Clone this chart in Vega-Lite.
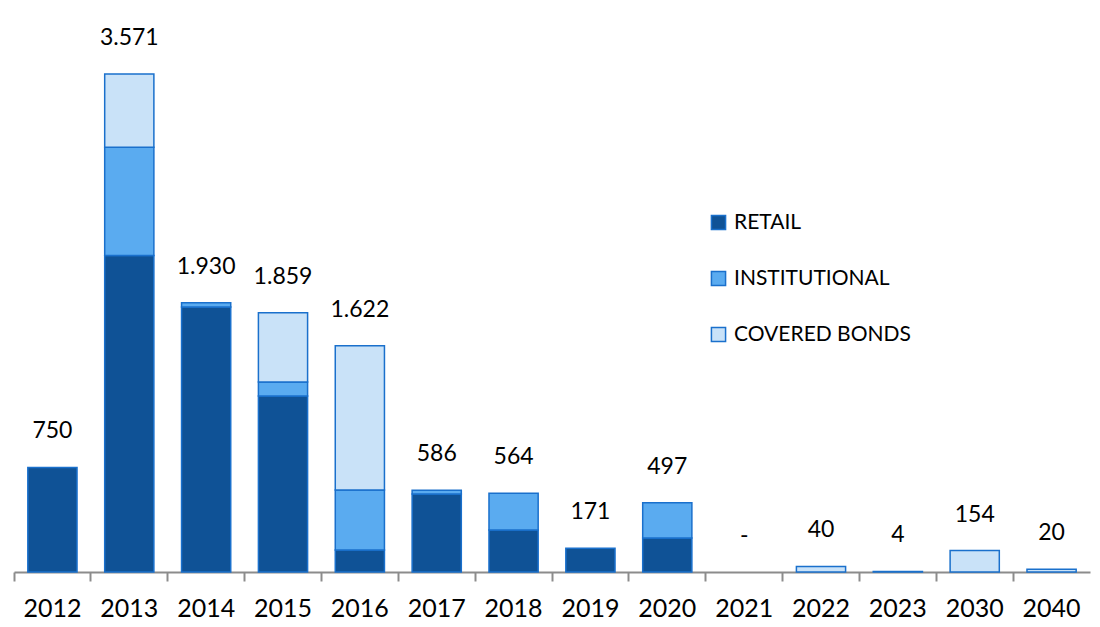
{
  "$schema": "https://vega.github.io/schema/vega-lite/v6.json",
  "autosize": {"type": "none"},
  "width": 1076,
  "height": 542,
  "padding": {"left": 14, "top": 30, "right": 10, "bottom": 55},
  "background": "white",
  "config": {"view": {"stroke": null}, "font": "Lato"},
  "datasets": {
    "parts": [
      {"year": "2012", "series": "RETAIL", "o": 1, "value": 750},
      {"year": "2013", "series": "RETAIL", "o": 1, "value": 2270},
      {"year": "2013", "series": "INSTITUTIONAL", "o": 2, "value": 775},
      {"year": "2013", "series": "COVERED BONDS", "o": 3, "value": 526},
      {"year": "2014", "series": "RETAIL", "o": 1, "value": 1900},
      {"year": "2014", "series": "INSTITUTIONAL", "o": 2, "value": 30},
      {"year": "2015", "series": "RETAIL", "o": 1, "value": 1262},
      {"year": "2015", "series": "INSTITUTIONAL", "o": 2, "value": 100},
      {"year": "2015", "series": "COVERED BONDS", "o": 3, "value": 497},
      {"year": "2016", "series": "RETAIL", "o": 1, "value": 158},
      {"year": "2016", "series": "INSTITUTIONAL", "o": 2, "value": 430},
      {"year": "2016", "series": "COVERED BONDS", "o": 3, "value": 1034},
      {"year": "2017", "series": "RETAIL", "o": 1, "value": 559},
      {"year": "2017", "series": "INSTITUTIONAL", "o": 2, "value": 27},
      {"year": "2018", "series": "RETAIL", "o": 1, "value": 301},
      {"year": "2018", "series": "INSTITUTIONAL", "o": 2, "value": 263},
      {"year": "2019", "series": "RETAIL", "o": 1, "value": 171},
      {"year": "2020", "series": "RETAIL", "o": 1, "value": 244},
      {"year": "2020", "series": "INSTITUTIONAL", "o": 2, "value": 253},
      {"year": "2022", "series": "COVERED BONDS", "o": 3, "value": 40},
      {"year": "2023", "series": "COVERED BONDS", "o": 3, "value": 4},
      {"year": "2030", "series": "COVERED BONDS", "o": 3, "value": 154},
      {"year": "2040", "series": "COVERED BONDS", "o": 3, "value": 20}
    ],
    "totals": [
      {"year": "2012", "total": 750, "label": "750"},
      {"year": "2013", "total": 3571, "label": "3.571"},
      {"year": "2014", "total": 1930, "label": "1.930"},
      {"year": "2015", "total": 1859, "label": "1.859"},
      {"year": "2016", "total": 1622, "label": "1.622"},
      {"year": "2017", "total": 586, "label": "586"},
      {"year": "2018", "total": 564, "label": "564"},
      {"year": "2019", "total": 171, "label": "171"},
      {"year": "2020", "total": 497, "label": "497"},
      {"year": "2021", "total": 0, "label": "-"},
      {"year": "2022", "total": 40, "label": "40"},
      {"year": "2023", "total": 4, "label": "4"},
      {"year": "2030", "total": 154, "label": "154"},
      {"year": "2040", "total": 20, "label": "20"}
    ]
  },
  "layer": [
    {
      "data": {"name": "parts"},
      "mark": {"type": "bar", "width": {"band": 0.64}, "stroke": "#1a70cc", "strokeWidth": 1.5},
      "encoding": {
        "x": {
          "field": "year", "type": "ordinal",
          "scale": {"domain": ["2012","2013","2014","2015","2016","2017","2018","2019","2020","2021","2022","2023","2030","2040"], "paddingInner": 0, "paddingOuter": 0},
          "axis": {
            "title": null, "labelAngle": 0, "bandPosition": 0,
            "labelFontSize": 25, "labelColor": "#000", "labelFont": "Lato",
            "labelPadding": 15, "labelBound": false,
            "domainColor": "#8c8c8c", "domainWidth": 2,
            "tickColor": "#8c8c8c", "tickWidth": 2, "tickSize": 9,
            "labelFlush": false
          }
        },
        "y": {
          "field": "value", "type": "quantitative", "stack": "zero",
          "scale": {"domain": [0, 3886], "nice": false},
          "axis": null
        },
        "color": {
          "field": "series", "type": "nominal",
          "scale": {"domain": ["RETAIL", "INSTITUTIONAL", "COVERED BONDS"], "range": ["#0f5296", "#5aabf0", "#c9e2f8"]},
          "legend": {
            "title": null, "orient": "none", "legendX": 694, "legendY": 182,
            "symbolType": "square", "symbolSize": 200, "symbolStrokeColor": "#1a70cc", "symbolStrokeWidth": 1.5,
            "labelFontSize": 21, "labelColor": "#000", "labelFont": "Lato", "labelLimit": 400,
            "rowPadding": 34, "labelOffset": 5
          }
        },
        "order": {"field": "o", "type": "quantitative"}
      }
    },
    {
      "data": {"name": "totals"},
      "mark": {"type": "text", "dy": -36, "fontSize": 23, "color": "#000", "font": "Lato", "baseline": "middle"},
      "encoding": {
        "x": {"field": "year", "type": "ordinal", "bandPosition": 0.5},
        "y": {"field": "total", "type": "quantitative"},
        "text": {"field": "label"}
      }
    }
  ]
}
